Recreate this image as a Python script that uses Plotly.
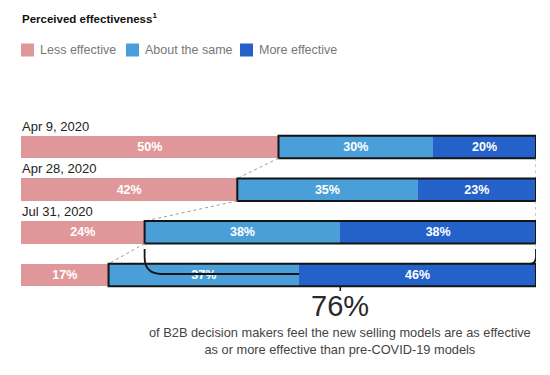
import plotly.graph_objects as go

# ---- data ----
wave_labels = ["Apr 9, 2020", "Apr 28, 2020", "Jul 31, 2020", ""]
less_effective = [50, 42, 24, 17]
about_same = [30, 35, 38, 37]
more_effective = [20, 23, 38, 46]
series_names = ["Less effective", "About the same", "More effective"]
colors = ["#DF9799", "#4B9FD8", "#2461C8"]
title_text = "Perceived effectiveness<sup>1</sup>"
headline = "76%"
subline = ("of B2B decision makers feel the new selling models are as effective<br>"
           "as or more effective than pre-COVID-19 models")

# page body has an 8px margin; figure sized to fit the 550x375 window
OFF = 8
W, H = 550 - OFF, 375 - OFF
ML, MR = 21 - OFF, 14
PW = W - ML - MR
FONT = "Liberation Sans, Arial, sans-serif"

def py(p):  # screen pixel row -> paper y
    return 1 - (p - OFF) / H

def pxp(p):  # screen pixel col -> paper x
    return (p - OFF - ML) / PW

ys = list(range(len(wave_labels)))
fig = go.Figure()
for name, vals, col in zip(series_names, [less_effective, about_same, more_effective], colors):
    fig.add_trace(go.Bar(
        x=vals, y=ys, orientation="h", name=name,
        marker=dict(color=col, line=dict(width=0)),
        texttemplate="%{x}%", textposition="inside", insidetextanchor="middle",
        textangle=0, constraintext="none",
        textfont=dict(color="white", size=12.5, family=FONT, weight="bold"),
        hoverinfo="skip", showlegend=False,
    ))

half = (1 - 0.473) / 2
shapes = []
annotations = []

# outlines around blue groups + connectors
for i, lv in enumerate(less_effective):
    shapes.append(dict(type="rect", xref="x", yref="y", x0=lv, x1=100,
                       y0=i - half, y1=i + half,
                       line=dict(color="#151515", width=2), layer="above"))
    if i < len(less_effective) - 1:
        shapes.append(dict(type="line", xref="x", yref="y", x0=lv, y0=i + half,
                           x1=less_effective[i + 1], y1=i + 1 - half,
                           line=dict(color="#9a9a9a", width=1, dash="dot")))
        shapes.append(dict(type="line", xref="x", yref="y", x0=100, y0=i + half,
                           x1=100, y1=i + 1 - half,
                           line=dict(color="#9a9a9a", width=1, dash="dot")))

# bracket
xl = less_effective[2]
xm = less_effective[3] + about_same[3]
r = 17 / PW * 100
top, bot = py(249), py(274)
rr = py(257)
shapes.append(dict(type="path", xref="x", yref="paper",
                   path=f"M {xl},{top} L {xl},{rr} Q {xl},{bot} {xl + r},{bot} L {xm},{bot}",
                   line=dict(color="#151515", width=1.8)))
shapes.append(dict(type="path", xref="x", yref="paper",
                   path=f"M 100,{top} L 100,{rr} Q 100,{py(263)} {100 - r * 0.35},{py(264)}",
                   line=dict(color="#151515", width=1.8)))
mid = (xl + 100) / 2
shapes.append(dict(type="line", xref="x", yref="paper", x0=mid, x1=mid,
                   y0=py(286), y1=py(291), line=dict(color="#151515", width=1.5)))

# custom legend
leg_x = [21, 126, 240]
for name, col, lx in zip(series_names, colors, leg_x):
    shapes.append(dict(type="rect", xref="paper", yref="paper",
                       x0=pxp(lx), x1=pxp(lx + 13), y0=py(43.5), y1=py(56.5),
                       fillcolor=col, line=dict(width=0)))
    annotations.append(dict(text=name, xref="paper", yref="paper", x=pxp(lx + 17), y=py(50),
                            xanchor="left", yanchor="middle", showarrow=False,
                            font=dict(size=12.5, color="#777777", family=FONT)))

# title
annotations.append(dict(text=title_text, xref="paper", yref="paper", x=pxp(20), y=py(18),
                        xanchor="left", yanchor="middle", showarrow=False,
                        font=dict(size=11.5, color="#111111", family=FONT, weight="bold")))

# wave labels
for i, lab in enumerate(wave_labels):
    if lab:
        annotations.append(dict(text=lab, xref="paper", yref="y", x=pxp(20), y=i - 0.49,
                                xanchor="left", yanchor="middle", showarrow=False,
                                font=dict(size=13, color="#222222", family=FONT)))

annotations.append(dict(text=headline, xref="x", yref="paper", x=mid, y=py(306),
                        xanchor="center", yanchor="middle", showarrow=False,
                        font=dict(size=29, color="#2a2a2a", family=FONT)))
annotations.append(dict(text=subline, xref="x", yref="paper", x=mid, y=py(341),
                        xanchor="center", yanchor="middle", showarrow=False,
                        font=dict(size=12.8, color="#444444", family=FONT)))

b = -(147 - OFF) / (128 / 3)
a = b + H / (128 / 3)
fig.update_layout(
    width=W, height=H, barmode="stack", bargap=0.473,
    margin=dict(l=ML, r=MR, t=0, b=0),
    paper_bgcolor="white", plot_bgcolor="white",
    xaxis=dict(range=[0, 100], visible=False, fixedrange=True),
    yaxis=dict(range=[a, b], visible=False, fixedrange=True),
    shapes=shapes, annotations=annotations,
    font=dict(family=FONT),
    showlegend=False,
)
fig.write_html("out.html")
